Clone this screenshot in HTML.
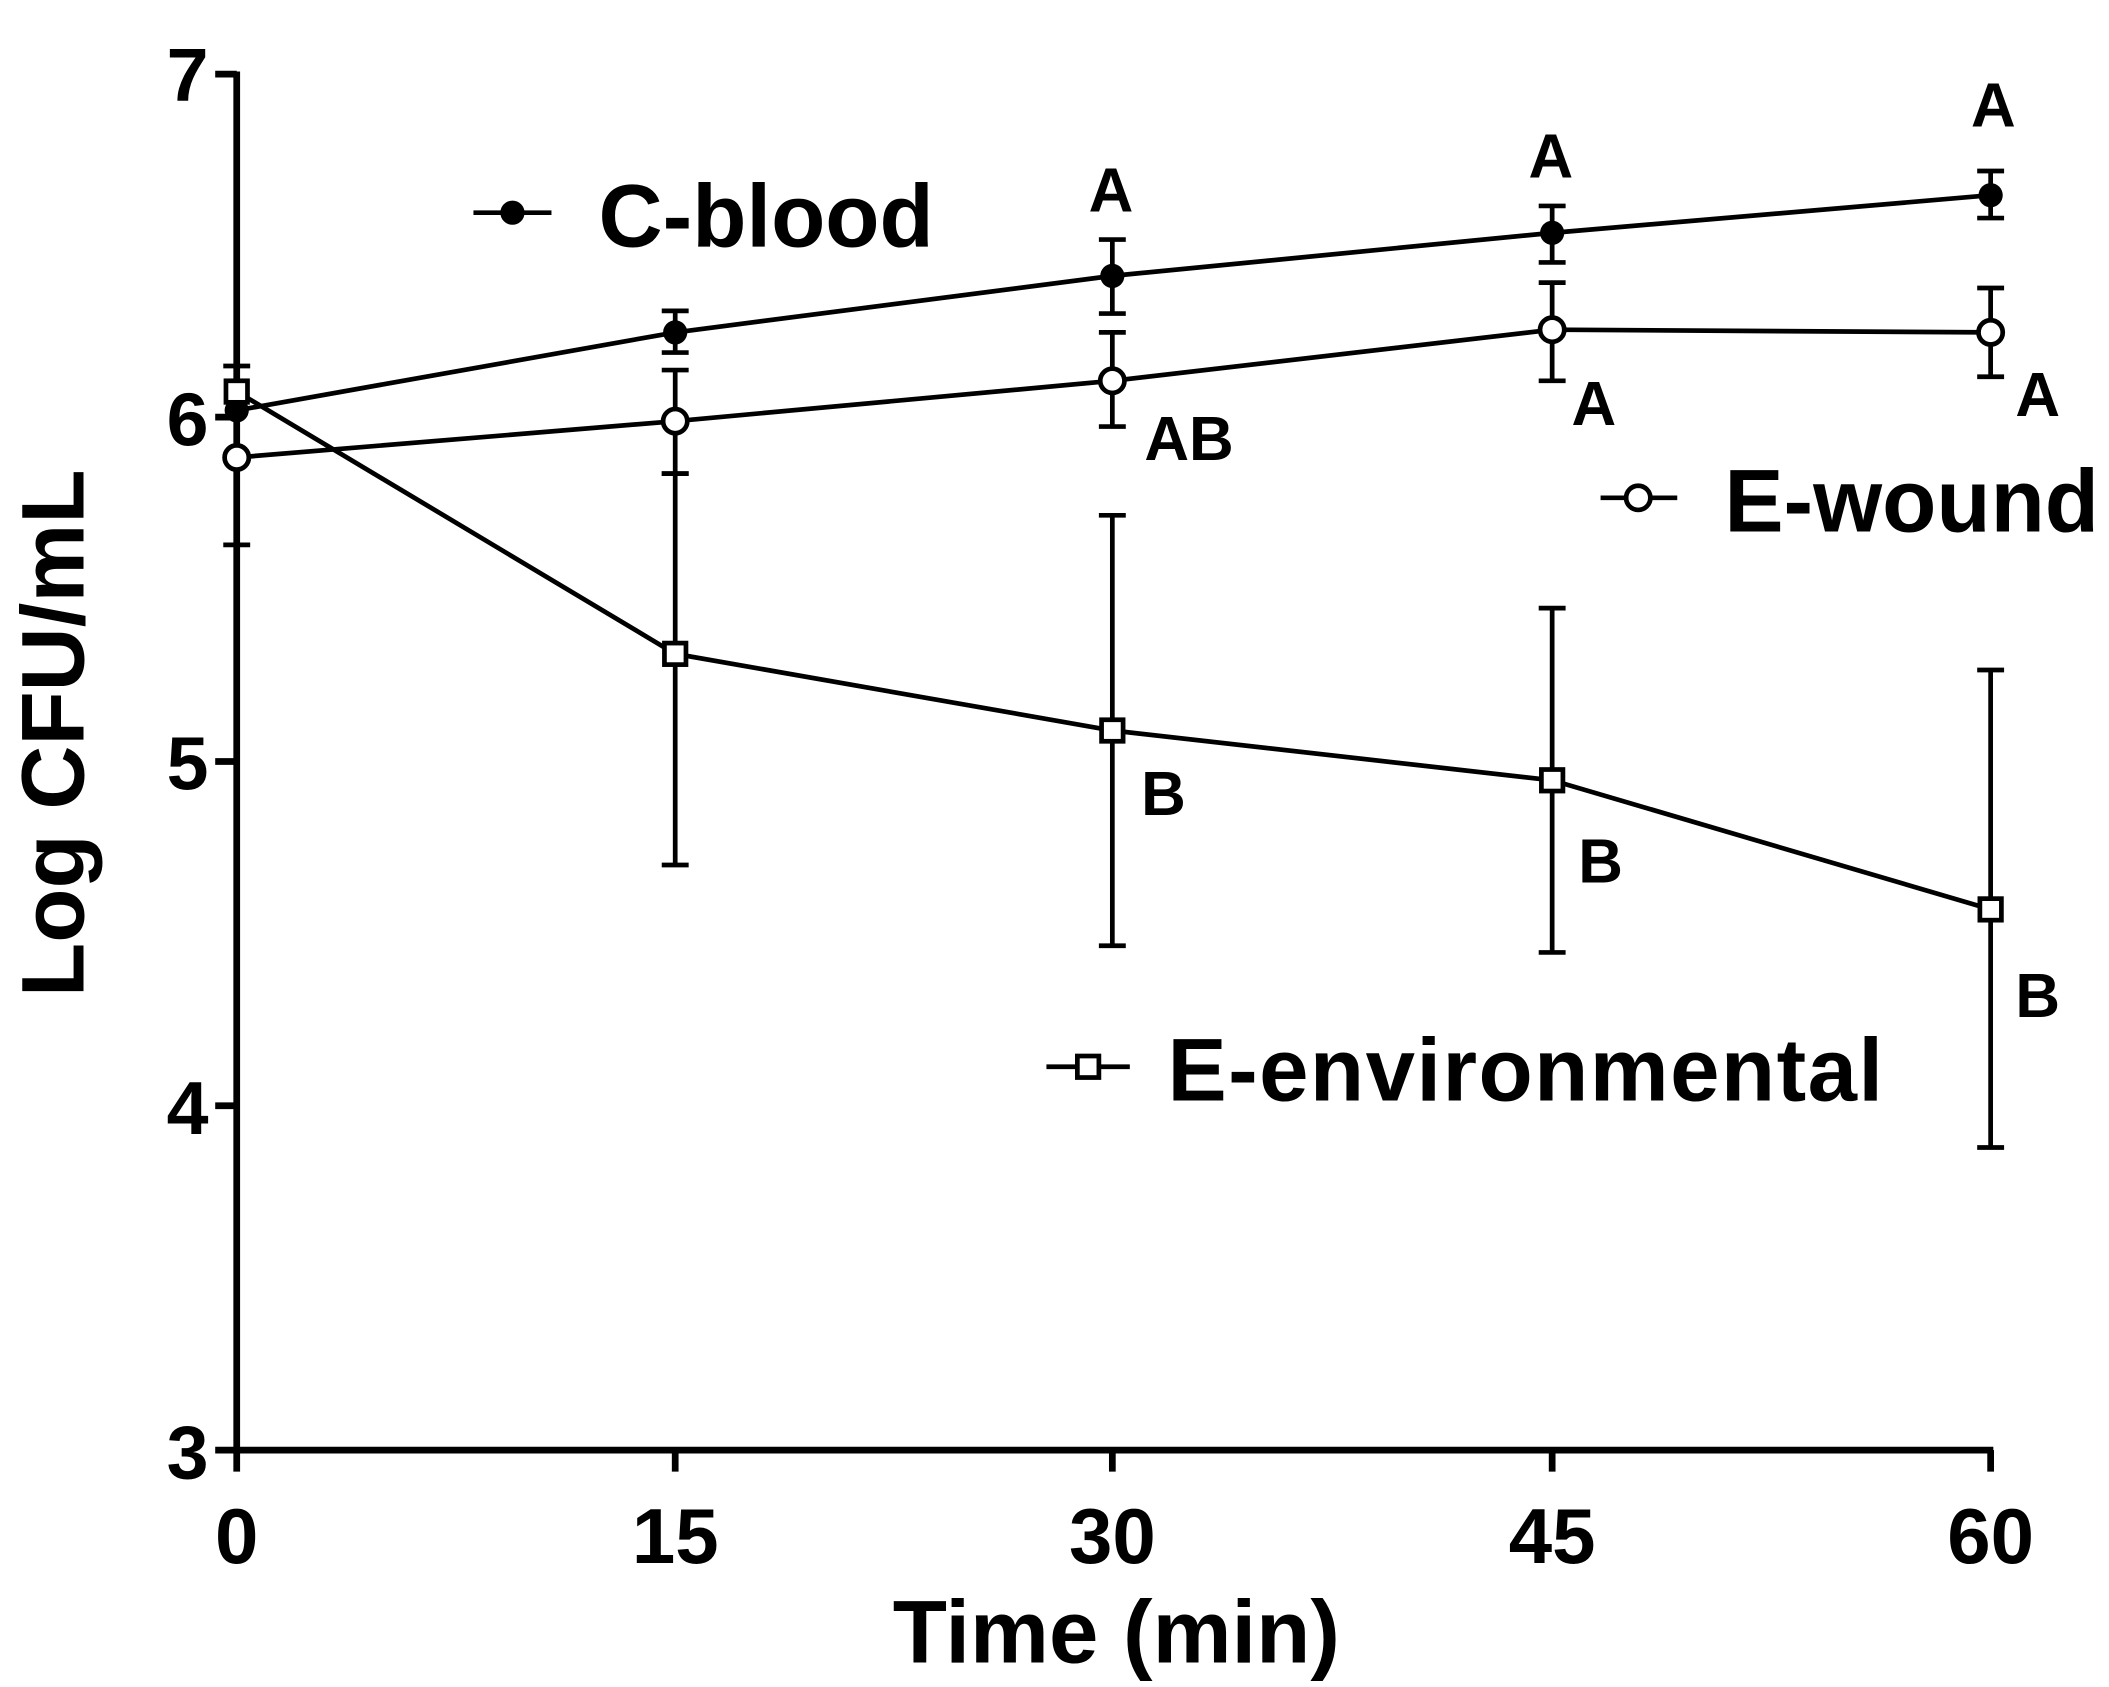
<!DOCTYPE html>
<html><head><meta charset="utf-8"><style>html,body{margin:0;padding:0;background:#fff}svg{display:block}</style></head>
<body>
<svg width="2109" height="1687" viewBox="0 0 1568 1254" xmlns="http://www.w3.org/2000/svg" font-family="Liberation Sans, Arial, sans-serif" font-weight="bold">
<g stroke="#000" stroke-width="5" fill="none">
<line x1="176" y1="53" x2="176" y2="1080"/>
<line x1="174" y1="1078" x2="1482" y2="1078"/>
<line x1="160" y1="55" x2="176" y2="55"/>
<line x1="160" y1="310" x2="176" y2="310"/>
<line x1="160" y1="566" x2="176" y2="566"/>
<line x1="160" y1="822" x2="176" y2="822"/>
<line x1="160" y1="1078" x2="176" y2="1078"/>
<line x1="176" y1="1078" x2="176" y2="1094"/>
<line x1="502" y1="1078" x2="502" y2="1094"/>
<line x1="827" y1="1078" x2="827" y2="1094"/>
<line x1="1154" y1="1078" x2="1154" y2="1094"/>
<line x1="1480" y1="1078" x2="1480" y2="1094"/>
</g>
<g font-size="56" text-anchor="end">
<text x="155" y="75">7</text><text x="155" y="331">6</text><text x="155" y="587">5</text><text x="155" y="843">4</text><text x="155" y="1099">3</text>
</g>
<g font-size="58" text-anchor="middle">
<text x="176" y="1162">0</text><text x="502" y="1162">15</text><text x="827" y="1162">30</text><text x="1154" y="1162">45</text><text x="1480" y="1162">60</text>
<text x="830" y="1236" font-size="66">Time (min)</text>
<text transform="translate(62,545) rotate(-90)" font-size="66">Log CFU/mL</text>
</g>
<g stroke="#000" stroke-width="3.5" fill="none">
<path d="M176 272V310M166 272H186M502 231V262M492 231H512M502 231V262M492 262H512M827 178V233M817 178H837M817 233H837M1154 153V195M1144 153H1164M1144 195H1164M1480 127V162M1470 127H1490M1470 162H1490"/>
<path d="M176 340V405M166 405H186M502 275V352M492 275H512M492 352H512M827 247V317M817 247H837M817 317H837M1154 210V283M1144 210H1164M1144 283H1164M1480 214V280M1470 214H1490M1470 280H1490"/>
<path d="M502 352V643M492 352H512M492 643H512M827 383V703M817 383H837M817 703H837M1154 452V708M1144 452H1164M1144 708H1164M1480 498V853M1470 498H1490M1470 853H1490"/>
<polyline points="176,305 502,247 827,205 1154,173 1480,145"/>
<polyline points="176,340 502,313 827,283 1154,245 1480,247"/>
<polyline points="176,291 502,486 827,543 1154,580 1480,676"/>
<line x1="352" y1="158" x2="410" y2="158"/>
<line x1="1190" y1="370" x2="1247" y2="370"/>
<line x1="778" y1="793" x2="840" y2="793"/>
</g>
<g fill="#000">
<circle cx="176" cy="305" r="9"/><circle cx="502" cy="247" r="9"/><circle cx="827" cy="205" r="9"/><circle cx="1154" cy="173" r="9"/><circle cx="1480" cy="145" r="9"/><circle cx="381" cy="158" r="9"/>
</g>
<g fill="#fff" stroke="#000" stroke-width="3.5">
<circle cx="176" cy="340" r="9"/><circle cx="502" cy="313" r="9"/><circle cx="827" cy="283" r="9"/><circle cx="1154" cy="245" r="9"/><circle cx="1480" cy="247" r="9"/><circle cx="1218" cy="370" r="9"/>
<rect x="168" y="283" width="16" height="16"/><rect x="494" y="478" width="16" height="16"/><rect x="819" y="535" width="16" height="16"/><rect x="1146" y="572" width="16" height="16"/><rect x="1472" y="668" width="16" height="16"/><rect x="801" y="785" width="16" height="16"/>
</g>
<g font-size="66">
<text x="445" y="183">C-blood</text>
<text x="1282" y="395">E-wound</text>
<text x="868" y="818" textLength="532">E-environmental</text>
</g>
<g font-size="46" text-anchor="middle">
<text x="826" y="157">A</text><text x="1153" y="132">A</text><text x="1482" y="94">A</text>
<text x="884" y="342">AB</text><text x="1185" y="316">A</text><text x="1515" y="309">A</text>
<text x="865" y="606">B</text><text x="1190" y="656">B</text><text x="1515" y="756">B</text>
</g>
</svg>
</body></html>
